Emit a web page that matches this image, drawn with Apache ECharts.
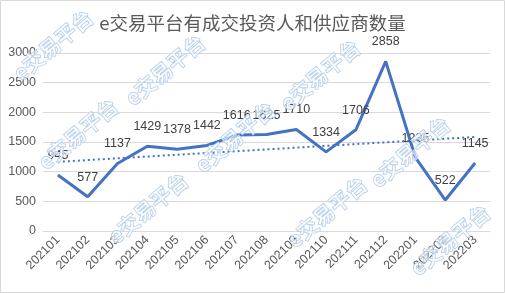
<!DOCTYPE html>
<html>
<head>
<meta charset="utf-8">
<script src="https://cdn.jsdelivr.net/npm/echarts@6/dist/echarts.min.js"></script>
<style>
  html, body { margin: 0; padding: 0; background: #fff; }
  #chart { width: 505px; height: 293px; }
</style>
</head>
<body>
<div id="chart"></div>
<script>
// 月份
var months = ['202101', '202102', '202103', '202104', '202105', '202106', '202107', '202108',
              '202109', '202110', '202111', '202112', '202201', '202202', '202203'];
// 有成交投资人和供应商数量
var counts = [945, 577, 1137, 1429, 1378, 1442, 1616, 1625, 1710, 1334, 1706, 2858, 1235, 522, 1145];
// 趋势线两端
var trendEnds = [1165, 1585];
var yTicks = [0, 500, 1000, 1500, 2000, 2500, 3000];

// 水印位置
var marks = [[53, 45], [165, 70], [78, 134], [148, 208], [235, 137], [320, 75], [327, 212], [410, 152], [450, 240]];

var myChart = echarts.init(document.getElementById('chart'));

var graphics = marks.map(function (p) {
    return {
        type: 'text',
        x: p[0], y: p[1],
        rotation: 40 * Math.PI / 180,
        z: 100,
        silent: true,
        style: {
            text: 'e交易平台',
            fontSize: 21,
            fontWeight: 'bold',
            fontFamily: '"Noto Sans CJK SC"',
            fill: 'rgba(255,255,255,0.55)',
            stroke: '#a8c6e6',
            lineWidth: 1,
            align: 'center',
            verticalAlign: 'middle'
        }
    };
});
graphics.push({
    type: 'rect',
    shape: { x: 0.5, y: 0.5, width: 504, height: 292 },
    style: { fill: 'none', stroke: '#d9d9d9', lineWidth: 1 },
    silent: true
});

var option = {
    backgroundColor: '#fff',
    animation: false,
    title: {
        text: 'e交易平台有成交投资人和供应商数量',
        left: 'center',
        top: 9,
        textStyle: {
            fontFamily: '"Noto Sans CJK SC"',
            fontWeight: 'normal',
            fontSize: 18.5,
            color: '#595959'
        }
    },
    grid: { left: 43, right: 15, top: 53, bottom: 62 },
    xAxis: {
        type: 'category',
        data: months,
        boundaryGap: true,
        axisLine: { lineStyle: { color: '#d9d9d9' } },
        axisTick: { show: false },
        axisLabel: {
            rotate: 45,
            interval: 0,
            margin: 7,
            fontSize: 12.5,
            fontFamily: 'Liberation Sans',
            color: '#595959'
        }
    },
    yAxis: {
        type: 'value',
        min: yTicks[0],
        max: yTicks[yTicks.length - 1],
        interval: 500,
        axisLine: { show: false },
        axisTick: { show: false },
        splitLine: { lineStyle: { color: '#d9d9d9' } },
        axisLabel: {
            margin: 7,
            fontSize: 12.5,
            fontFamily: 'Liberation Sans',
            color: '#595959',
            formatter: function (v) { return String(v); }
        }
    },
    series: [{
        type: 'line',
        data: counts,
        showSymbol: true,
        symbol: 'circle',
        symbolSize: 2,
        itemStyle: { color: 'rgba(68,114,196,0)' },
        lineStyle: { color: '#4472c4', width: 3 },
        label: {
            show: true,
            position: 'top',
            distance: 12,
            fontSize: 12.5,
            fontFamily: 'Liberation Sans',
            color: '#404040'
        },
        markLine: {
            silent: true,
            symbol: 'none',
            label: { show: false },
            lineStyle: { color: '#4472c4', width: 2, type: [2, 3] },
            data: [[
                { coord: [months[0], trendEnds[0]] },
                { coord: [months[months.length - 1], trendEnds[1]] }
            ]]
        }
    }],
    graphic: graphics
};

myChart.setOption(option);
window.addEventListener('resize', function () {
    myChart.resize();
});
</script>
</body>
</html>
